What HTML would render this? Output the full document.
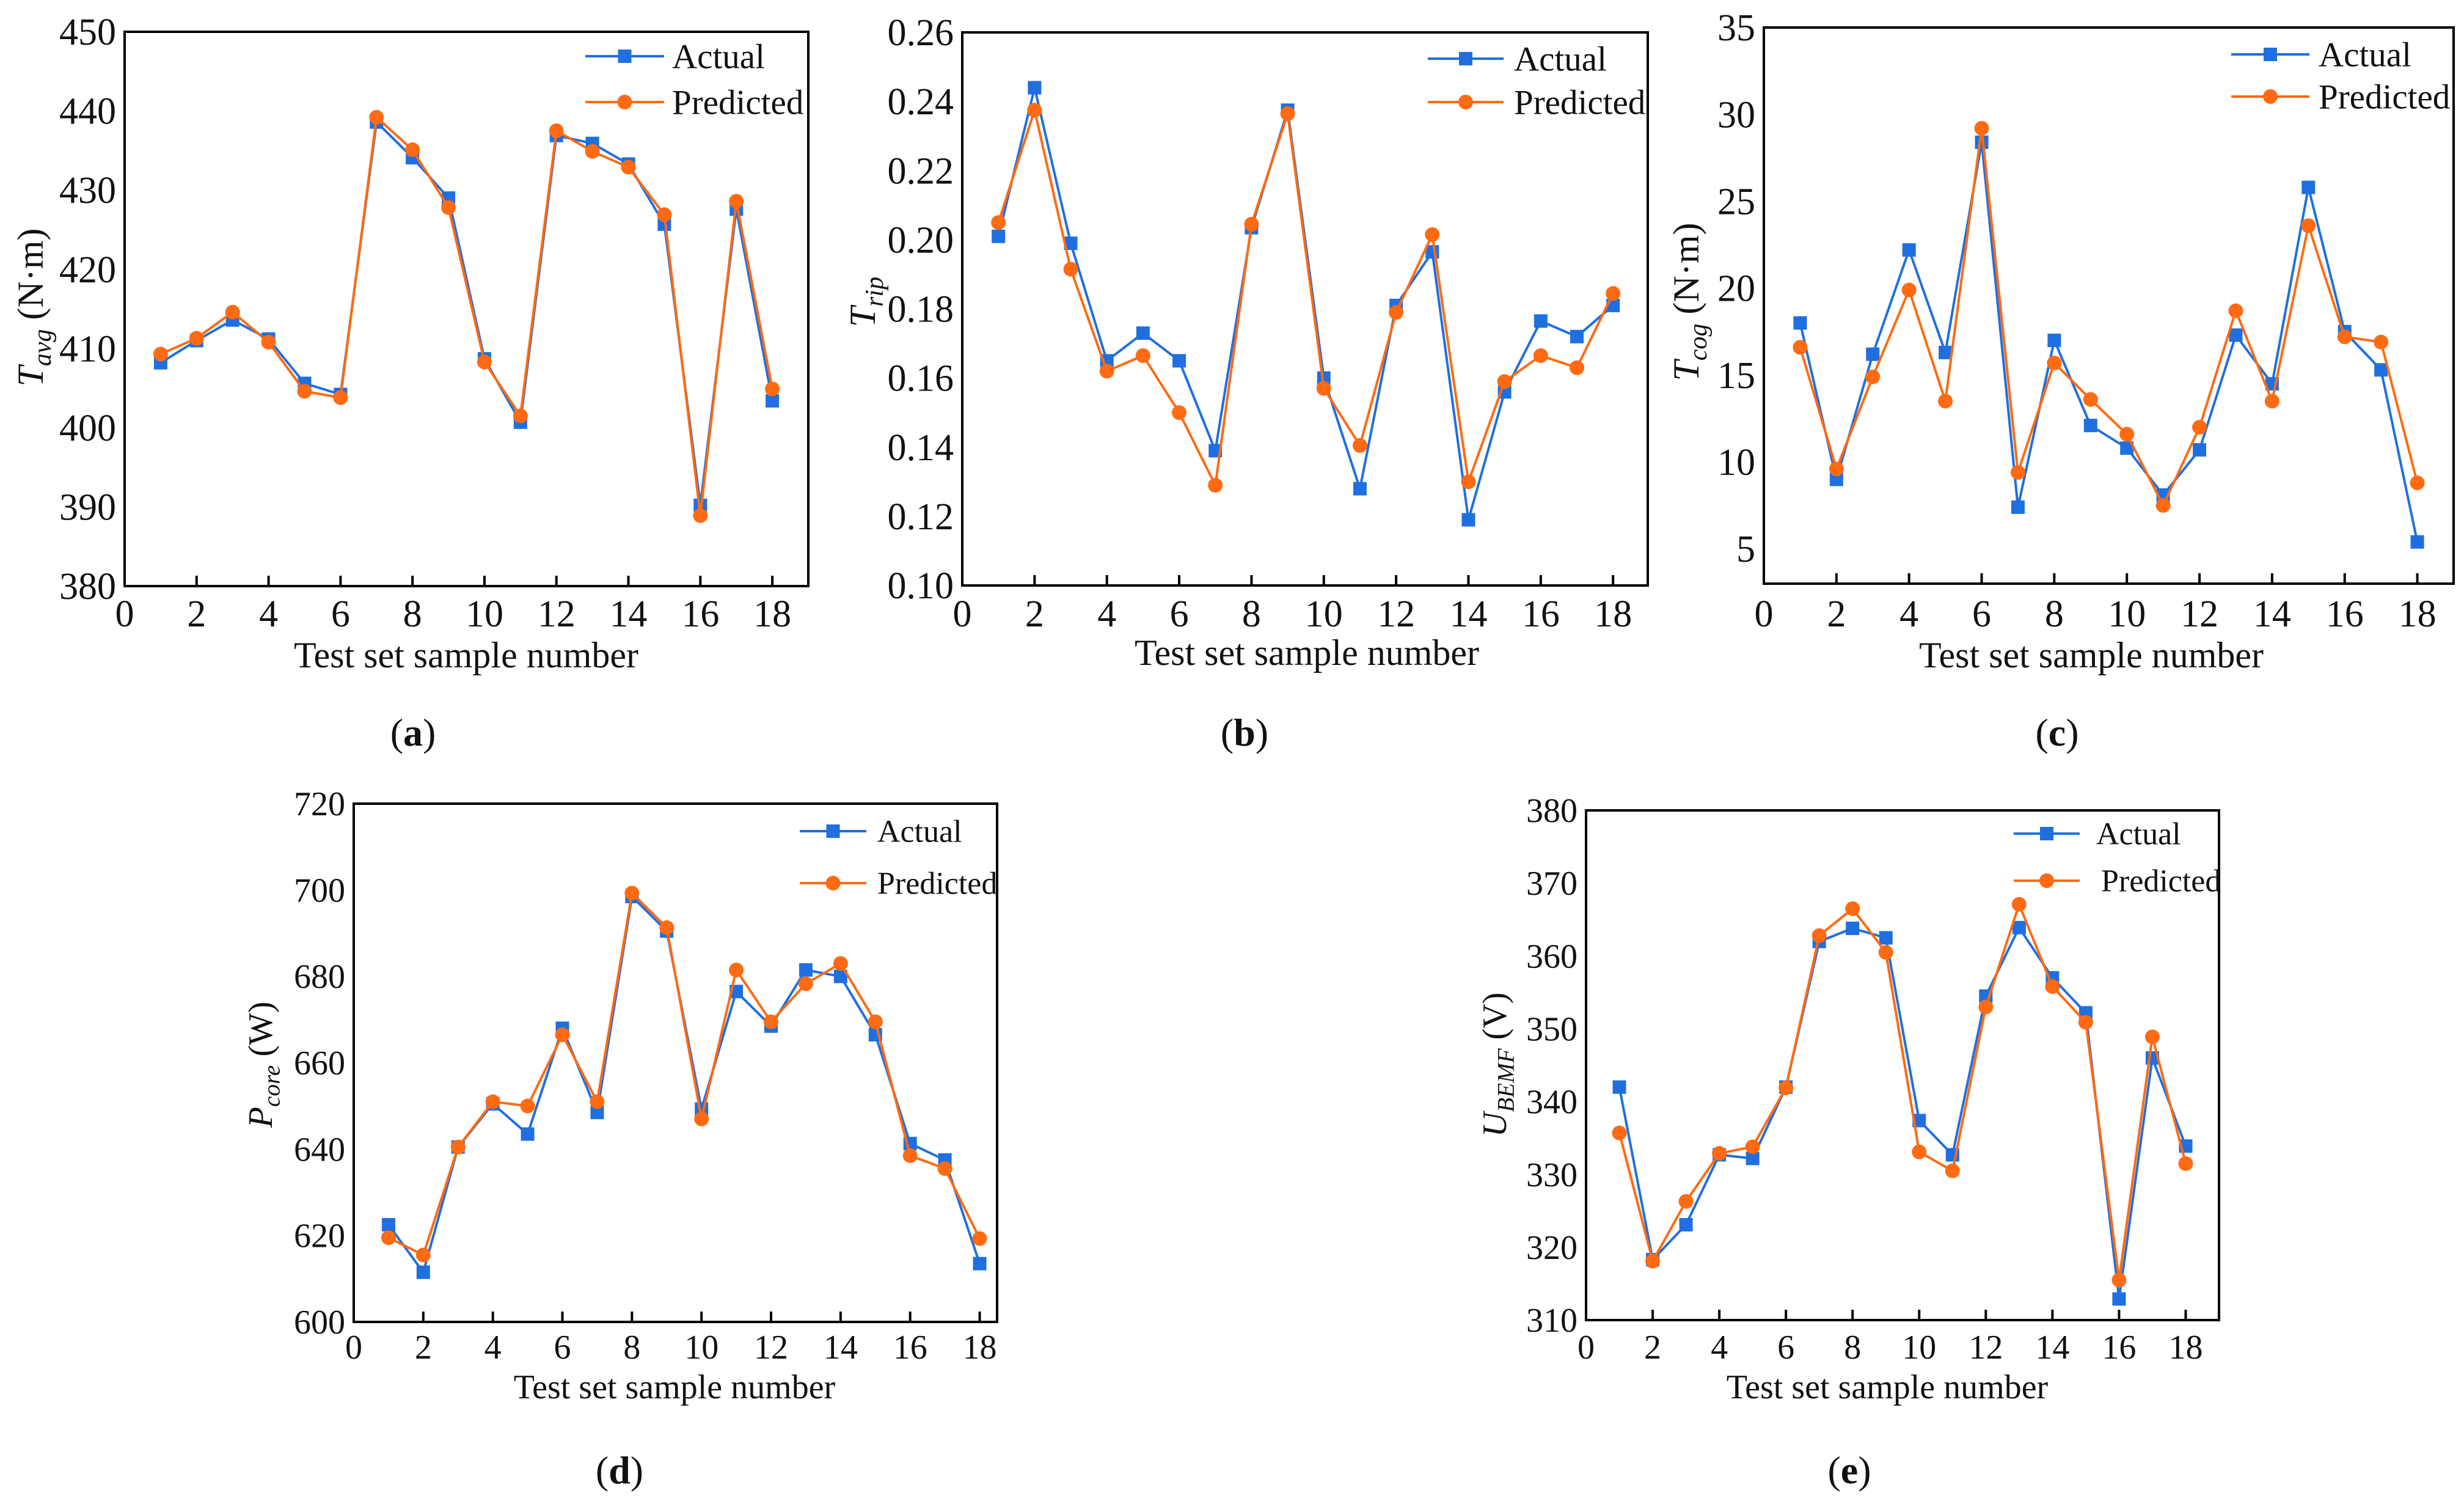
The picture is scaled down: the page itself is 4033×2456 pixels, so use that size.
<!DOCTYPE html>
<html><head><meta charset="utf-8">
<style>
html,body{margin:0;padding:0;background:#fff;}
svg{display:block;}
svg text{font-family:"Liberation Serif","Times New Roman",serif;}
</style></head>
<body>
<svg id="fig" width="4033" height="2456" viewBox="0 0 4033 2456" xmlns="http://www.w3.org/2000/svg" font-family="Liberation Serif, Times New Roman, serif"></svg>
<script>
const xs = [1,2,3,4,5,6,7,8,9,10,11,12,13,14,15,16,17,18];
const xTicks = [0,2,4,6,8,10,12,14,16,18];

const aActual = [408.2,411,413.6,411.2,405.6,404.2,438.6,434.1,429,408.7,400.7,436.9,435.9,433.3,425.7,390.2,427.6,403.4];
const aPred   = [409.3,411.3,414.6,410.8,404.6,403.8,439.2,435.1,427.8,408.3,401.5,437.5,434.9,432.9,426.9,388.9,428.6,404.9];
const aYTicks = [380,390,400,410,420,430,440,450];

const bActual = [0.201,0.244,0.199,0.165,0.173,0.165,0.139,0.2035,0.2375,0.160,0.128,0.181,0.1965,0.119,0.156,0.1765,0.172,0.181];
const bPred   = [0.205,0.2375,0.1915,0.162,0.1665,0.150,0.129,0.2045,0.2365,0.157,0.1405,0.179,0.2015,0.130,0.159,0.1665,0.163,0.1845];
const bYTicks = ["0.10","0.12","0.14","0.16","0.18","0.20","0.22","0.24","0.26"];

const cActual = [18,9.0,16.2,22.2,16.3,28.4,7.4,17,12.1,10.8,8.1,10.7,17.3,14.5,25.8,17.5,15.3,5.4];
const cPred   = [16.6,9.6,14.9,19.9,13.5,29.2,9.4,15.7,13.6,11.6,7.5,12,18.7,13.5,23.6,17.2,16.9,8.8];
const cYTicks = [5,10,15,20,25,30,35];

const dActual = [622.5,611.5,640.5,650.5,643.5,668,648.5,698.5,690.5,649.3,676.5,668.5,681.5,680,666.5,641.3,637.5,613.5];
const dPred   = [619.5,615.5,640.5,651,650,666.5,651,699.3,691.3,647,681.5,669.5,678.3,683,669.5,638.5,635.5,619.3];
const dYTicks = [600,620,640,660,680,700,720];

const eActual = [342,318.3,323.1,332.7,332.2,342,362,363.8,362.5,337.4,332.7,354.5,363.9,357,352.2,312.9,346,333.9];
const ePred   = [335.7,318.1,326.3,332.9,333.8,341.9,362.8,366.5,360.5,333.1,330.5,353,367.1,355.8,350.9,315.5,348.9,331.5];
const eYTicks = [310,320,330,340,350,360,370,380];

const NS = "http://www.w3.org/2000/svg";
const svg = document.getElementById('fig');
const BLUE = "#1f6fe0", ORANGE = "#ff6a12";
const FF = "Liberation Serif, Times New Roman, serif";

function mk(tag, attrs, parent){
  const el = document.createElementNS(NS, tag);
  for (const k in attrs) el.setAttribute(k, attrs[k]);
  if (tag === 'text') el.setAttribute('font-family', FF);
  (parent||svg).appendChild(el);
  return el;
}

function panel(cfg){
  const g = mk('g', {});
  
  
  const L=cfg.L, R=cfg.R, T=cfg.T, B=cfg.B;
  const X = v => L + (v - 0) / (cfg.xmax - 0) * (R - L);
  const Y = v => B - (v - cfg.ymin) / (cfg.ymax - cfg.ymin) * (B - T);
  const fs = cfg.fs;

  const frame = mk('rect', {x:L, y:T, width:R-L, height:B-T, fill:'none', stroke:'#000', 'stroke-width':4}, g);
  
  

  xTicks.forEach(t => {
    const tk = mk('line', {x1:X(t), x2:X(t), y1:B, y2:B-17, stroke:'#000', 'stroke-width':4}, g);
    
    
    const tl = mk('text', {x:X(t), y:cfg.tickBase, 'font-size':fs, 'text-anchor':'middle', fill:'#111'}, g);
    tl.textContent = t;
    
    
  });
  cfg.yTicks.forEach(t => {
    const v = parseFloat(t);
    const tl = mk('text', {x:L-14, y:Y(v)+fs*0.34, 'font-size':fs, 'text-anchor':'end', fill:'#111'}, g);
    tl.textContent = t;
    
    
  });

  const xt = mk('text', {x:cfg.xlx, y:cfg.xly, 'font-size':cfg.lfs, 'text-anchor':'middle', fill:'#111'}, g);
  xt.textContent = 'Test set sample number';
  
  

  const yt = mk('text', {transform:`translate(${cfg.ylx},${cfg.yly}) rotate(-90)`, 'font-size':cfg.lfs, 'text-anchor':'middle', fill:'#111'}, g);
  
  
  const s1 = mk('tspan', {'font-style':'italic'}, yt); s1.textContent = cfg.ysym;
  const s2 = mk('tspan', {'font-style':'italic', 'font-size':cfg.lfs*0.7, dy:cfg.lfs*0.22}, yt); s2.textContent = cfg.ysub;
  if (cfg.yunit) { const s3 = mk('tspan', {dy:-cfg.lfs*0.22}, yt); s3.textContent = ' ' + cfg.yunit; }

  function series(vals, color, shape, name){
    const pts = vals.map((v,i) => X(xs[i]).toFixed(1) + ',' + Y(v).toFixed(1)).join(' ');
    const pl = mk('polyline', {points:pts, fill:'none', stroke:color, 'stroke-width':4, 'stroke-linejoin':'round'}, g);
    
    
    vals.forEach((v,i) => {
      let m;
      if (shape === 'sq') m = mk('rect', {x:X(xs[i])-11, y:Y(v)-11, width:22, height:22, fill:color}, g);
      else m = mk('circle', {cx:X(xs[i]), cy:Y(v), r:12, fill:color}, g);
      
      
    });
  }
  series(cfg.actual, BLUE, 'sq', 'actual');
  series(cfg.pred, ORANGE, 'ci', 'predicted');

  const lg = mk('g', {}, g);
  
  
  const [lx1, lx2, ly1, ly2, tx] = cfg.leg;
  const mx = (lx1+lx2)/2;
  const la = mk('line', {x1:lx1, x2:lx2, y1:ly1, y2:ly1, stroke:BLUE, 'stroke-width':4}, lg);
  
  
  const lam = mk('rect', {x:mx-11, y:ly1-11, width:22, height:22, fill:BLUE}, lg);
  
  
  const lat = mk('text', {x:tx, y:ly1+cfg.legfs*0.34, 'font-size':cfg.legfs, fill:'#111'}, lg);
  lat.textContent = 'Actual';
  
  
  const lp = mk('line', {x1:lx1, x2:lx2, y1:ly2, y2:ly2, stroke:ORANGE, 'stroke-width':4}, lg);
  
  
  const lpm = mk('circle', {cx:mx, cy:ly2, r:12, fill:ORANGE}, lg);
  
  
  const lpt = mk('text', {x:tx + (cfg.ptx||0), y:ly2+cfg.legfs*0.34, 'font-size':cfg.legfs, fill:'#111'}, lg);
  lpt.textContent = 'Predicted';
  
  

  const pl = mk('text', {x:cfg.plx, y:cfg.ply, 'font-size':64, 'text-anchor':'middle', fill:'#111'}, g);
  
  
  const p1 = mk('tspan', {}, pl); p1.textContent = '(';
  const p2 = mk('tspan', {'font-weight':'bold'}, pl); p2.textContent = cfg.id;
  const p3 = mk('tspan', {}, pl); p3.textContent = ')';
}

panel({id:'a', L:204, R:1323, T:52, B:959, xmax:19, ymin:380, ymax:450, yTicks:aYTicks,
  actual:aActual, pred:aPred, fs:62, lfs:60, legfs:57, tickBase:1025,
  xlx:763, xly:1092, ylx:70, yly:503, ysym:'T', ysub:'avg', yunit:'(N·m)',
  leg:[958,1087,92,167,1100], plx:676, ply:1220});
panel({id:'b', L:1575, R:2697, T:53, B:958, xmax:18.96, ymin:0.10, ymax:0.26, yTicks:bYTicks,
  actual:bActual, pred:bPred, fs:62, lfs:60, legfs:57, tickBase:1025,
  xlx:2139, xly:1088, ylx:1432, yly:494, ysym:'T', ysub:'rip', yunit:'',
  leg:[2337,2461,96,167,2478], plx:2037, ply:1220});
panel({id:'c', L:2887, R:4016, T:45, B:955, xmax:19, ymin:3, ymax:35, yTicks:cYTicks,
  actual:cActual, pred:cPred, fs:62, lfs:60, legfs:57, tickBase:1025,
  xlx:3423, xly:1092, ylx:2780, yly:494, ysym:'T', ysub:'cog', yunit:'(N·m)',
  leg:[3652,3780,89,158,3795], plx:3367, ply:1220});
panel({id:'d', L:579, R:1632, T:1315, B:2163, xmax:18.5, ymin:600, ymax:720, yTicks:dYTicks,
  actual:dActual, pred:dPred, fs:56, lfs:56, legfs:52, tickBase:2223,
  xlx:1104, xly:2288, ylx:445, yly:1742, ysym:'P', ysub:'core', yunit:'(W)',
  leg:[1309,1418,1360,1445,1436], plx:1014, ply:2427});
panel({id:'e', L:2596, R:3632, T:1326, B:2160, xmax:19, ymin:310, ymax:380, yTicks:eYTicks,
  actual:eActual, pred:ePred, fs:56, lfs:56, legfs:52, tickBase:2223,
  xlx:3089, xly:2288, ylx:2465, yly:1742, ysym:'U', ysub:'BEMF', yunit:'(V)',
  leg:[3296,3404,1364,1441,3431], ptx:8, plx:3027, ply:2427});
</script>
</body></html>
